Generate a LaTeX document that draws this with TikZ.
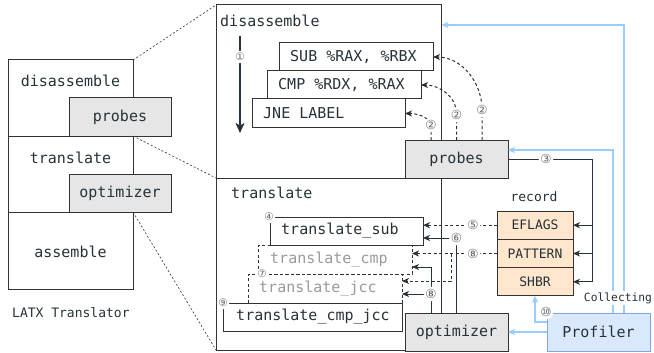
\documentclass[tikz,border=0pt]{standalone}
\usepackage{fontspec}
\setmonofont{DejaVu Sans Mono}
\newfontfamily\circfont{DejaVu Sans}
\usetikzlibrary{arrows.meta,calc}
\definecolor{ink}{HTML}{263238}
\definecolor{edge}{HTML}{333333}
\definecolor{greyfill}{HTML}{E6E6E6}
\definecolor{peach}{HTML}{FFE6CC}
\definecolor{lblue}{HTML}{99CCFF}
\definecolor{pfill}{HTML}{DAE8FC}
\definecolor{pedge}{HTML}{7EA6E0}
\definecolor{ghost}{HTML}{999999}
\definecolor{numc}{HTML}{6A6A6A}
\begin{document}
\begin{tikzpicture}[x=1pt,y=-1pt,
  box/.style={draw=edge, line width=1pt, inner sep=0pt, outer sep=0pt},
  dbox/.style={box, dash pattern=on 3pt off 2.5pt},
  gbox/.style={box, fill=greyfill},
  pbox/.style={box, fill=peach},
  prbox/.style={box, draw=pedge, fill=pfill},
  mono/.style={font=\ttfamily\fontsize{15}{18}\selectfont, text=ink, inner sep=0pt},
  monos/.style={font=\ttfamily\fontsize{13}{16}\selectfont, text=ink, inner sep=0pt},
  monot/.style={font=\ttfamily\fontsize{11.3}{14}\selectfont, text=ink, inner sep=1pt},
  num/.style={font=\circfont\fontsize{12.5}{14}\selectfont, text=numc, fill=white, inner sep=0pt, circle},
  snum/.style={num, font=\circfont\fontsize{10.5}{12}\selectfont},
  plain/.style={draw=ink, line width=1pt},
  conn/.style={draw=ink, line width=1pt, -{Stealth[length=7pt,width=6pt,inset=2pt]}},
  dconn/.style={conn, dash pattern=on 3pt off 2.5pt},
  bconn/.style={draw=lblue, line width=1.3pt, -{Stealth[length=7pt,width=6.5pt,inset=2pt]}},
  bigarrow/.style={draw=ink, line width=2.2pt, -{Stealth[length=10pt,width=9pt,inset=2.5pt]}},
  zoomline/.style={draw=edge, line width=0.6pt, dash pattern=on 2pt off 2pt}]
\useasboundingbox (0,0) rectangle (654,353);

% big panels
\node[box, minimum width=225.5pt, minimum height=173pt] (P1) at (328.75,91.5) {};
\node[box, minimum width=225.5pt, minimum height=172pt] (P2) at (328.75,264) {};
\node[mono, anchor=west] (P1t) at (220,21) {disassemble};
\node[mono, anchor=west] (P2t) at (231,193) {translate};

% left stack
\node[box, minimum width=125pt, minimum height=76pt] (Ldis) at (70.5,98) {};
\node[box, minimum width=125pt, minimum height=76pt] (Ltr) at (70.5,174) {};
\node[box, minimum width=125pt, minimum height=77pt] (Las) at (70.5,250.5) {};
\node[gbox, mono, minimum width=102pt, minimum height=38pt] (Lpr) at (120,117) {probes};
\node[gbox, mono, minimum width=102pt, minimum height=38pt] (Lopt) at (120,193) {optimizer};
\node[mono] (Ldist) at (70.5,81) {disassemble};
\node[mono] (Ltrt) at (70.5,158) {translate};
\node[mono] (Last) at (70.5,252) {assemble};
\node[monos, anchor=west] (title) at (12,313) {LATX Translator};

\draw[zoomline] (Ldis.north east) -- (P1.north west);
\draw[zoomline] (Ltr.north east) -- (P1.south west);
\draw[zoomline] (Las.north east) -- (P2.south west);

% disassemble panel content
\node[box, minimum width=154pt, minimum height=28pt] (sub) at (356,57) {};
\node[mono, anchor=west] (subt) at (290,57) {SUB \%RAX, \%RBX};
\node[box, minimum width=154pt, minimum height=28pt] (cmp) at (344,85) {};
\node[mono, anchor=west] (cmpt) at (278,85) {CMP \%RDX, \%RAX};
\node[box, minimum width=153pt, minimum height=29pt] (jne) at (328.5,113.5) {};
\node[mono, anchor=west] (jnet) at (263,113.5) {JNE LABEL};

\coordinate (a1s) at (240,36);
\coordinate (a1e) at (240,133);
\draw[bigarrow] (a1s) -- (a1e);
\node[snum] (n1) at (240,57) {①};

\node[gbox, mono, minimum width=103pt, minimum height=38pt] (probes) at (456.5,159) {probes};

\draw[dconn] ($(probes.north)+(-25.5,0)$) -- ++(0,-12) to[out=90,in=0] (jne.east);
\draw[dconn] (probes.north) -- ++(0,-26) to[out=90,in=0] (cmp.east);
\draw[dconn] ($(probes.north)+(25.5,0)$) -- ++(0,-30) to[out=90,in=0] (sub.east);
\node[num] (n2a) at (431,125) {②};
\node[num] (n2b) at (456.5,115) {②};
\node[num] (n2c) at (482,110) {②};

% translate panel content
\node[dbox, minimum width=154pt, minimum height=29pt] (jcc) at (325,288.5) {};
\node[dbox, minimum width=154pt, minimum height=29pt] (tcmp) at (335,259.5) {};
\node[box, minimum width=153pt, minimum height=28pt] (tsub) at (346.5,231) {};
\node[box, minimum width=179pt, minimum height=28pt] (cj) at (312.5,317) {};
\node[mono, anchor=west] (tsubt) at (281,231) {translate\_sub};
\node[mono, anchor=west, text=ghost] (tcmpt) at (270,259.5) {translate\_cmp};
\node[mono, anchor=west, text=ghost] (tjcct) at (259,288.5) {translate\_jcc};
\node[mono] (cjt) at (313,317) {translate\_cmp\_jcc};

% record
\node[monos] (reclabel) at (534,197) {record};
\node[pbox, monos, minimum width=76pt, minimum height=28.3pt] (eflags) at (535,225.2) {EFLAGS};
\node[pbox, monos, minimum width=76pt, minimum height=28.3pt] (pattern) at (535,253.5) {PATTERN};
\node[pbox, monos, minimum width=76pt, minimum height=28.3pt] (shbr) at (535,281.8) {SHBR};

% optimizer and profiler
\node[gbox, mono, minimum width=103pt, minimum height=38pt] (opt) at (456.5,332) {optimizer};
\node[prbox, mono, minimum width=103pt, minimum height=38pt] (prof) at (598.5,332) {Profiler};

% (3)
\coordinate (c3) at (592,159);
\draw[plain] (probes.east) -- (c3);
\draw[conn] (c3) |- (eflags.east);
\draw[conn] (c3) |- (pattern.east);
\draw[conn] (c3) |- (shbr.east);
\node[num] (n3) at (546,159) {③};

% (5)
\draw[dconn] (eflags.west) -- (eflags.west -| tsub.east);
\node[num] (n5) at (473,225.2) {⑤};

% (6)
\draw[conn] (opt.north) |- ($(tsub.east)+(0,7)$);
\node[num] (n6) at (456.5,238) {⑥};

% (8) upper
\coordinate (c8a) at (451,253.5);
\draw[dconn] (pattern.west) -- (pattern.west -| tcmp.east);
\draw[dconn] (c8a) |- ($(jcc.east)+(0,-7.5)$);
\node[num] (n8a) at (473,253.5) {⑧};

% (8) lower
\coordinate (c8b) at (431,294);
\draw[conn] (c8b |- opt.north) |- ($(tcmp.east)+(0,7.5)$);
\draw[conn] (c8b) -- (c8b -| jcc.east);
\node[num] (n8b) at (c8b) {⑧};

% blue connectors
\draw[bconn] (prof.west) -- (opt.east);
\coordinate (c10) at (535,322);
\draw[bconn] (prof.west |- c10) -| (shbr.south);
\draw[bconn] ($(prof.north)+(14.5,0)$) |- ($(probes.east)+(0,-9)$);
\draw[bconn] ($(prof.north)+(25.5,0)$) |- ($(P1.north east)+(0,20)$);
\node[num] (n10) at (546,312) {⑩};
\node[monot, fill=white] (coll) at (618,298) {Collecting};

% corner numbers
\node[snum] (n4) at (269,217) {④};
\node[snum] (n7) at (262,274) {⑦};
\node[snum] (n9) at (223,303) {⑨};
\end{tikzpicture}
\end{document}
